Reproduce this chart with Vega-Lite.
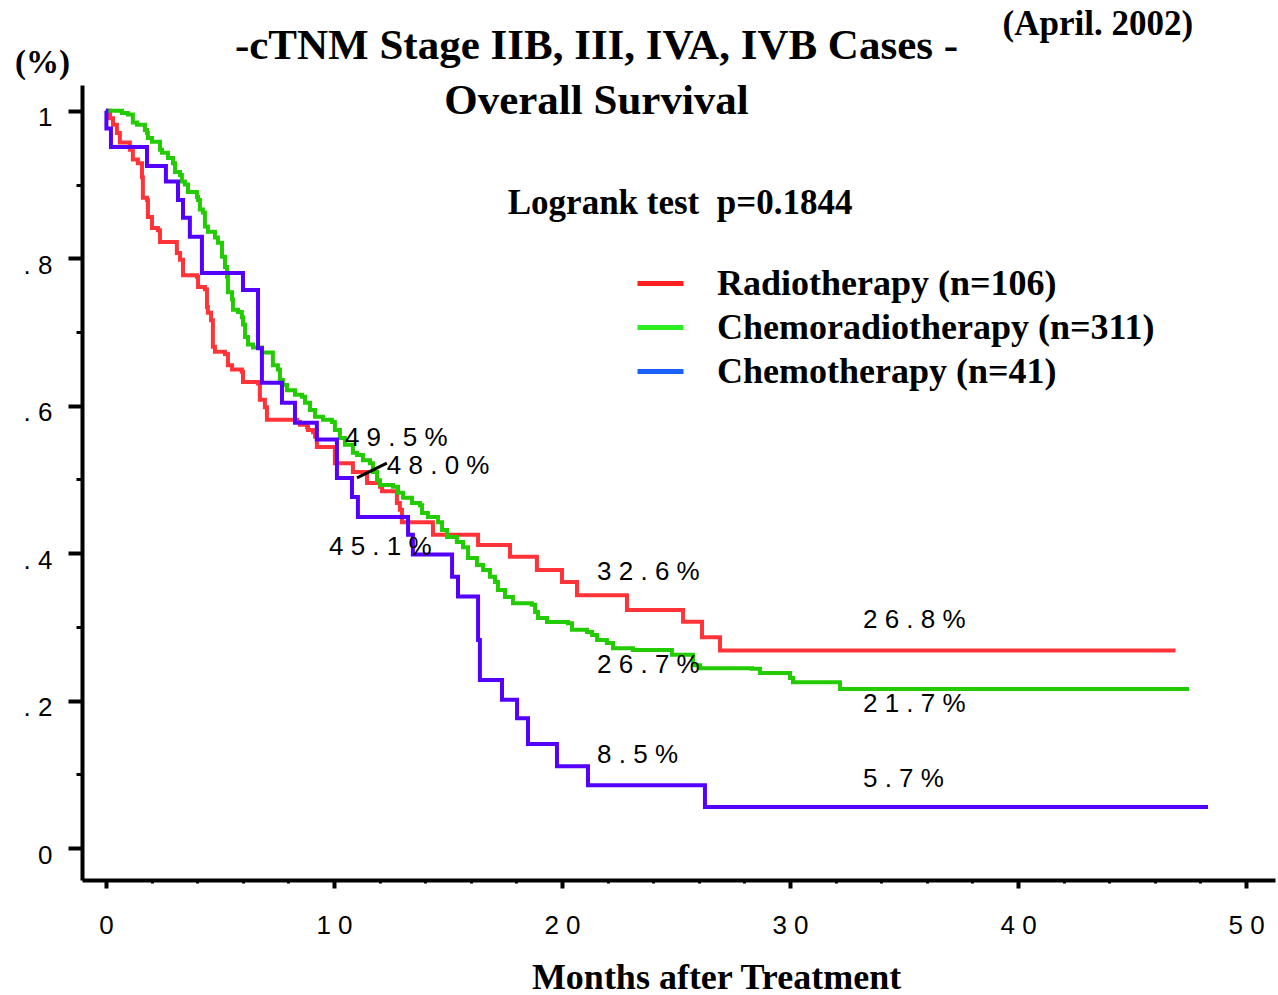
{
  "$schema": "https://vega.github.io/schema/vega-lite/v6.json",
  "width": 1193,
  "height": 795,
  "autosize": {"type": "none"},
  "padding": {"left": 82, "top": 85, "right": 3, "bottom": 115},
  "background": "white",
  "config": {"view": {"stroke": null}, "axis": {"grid": false}},
  "title": {
    "text": ["-cTNM Stage IIB, III, IVA, IVB Cases -", "Overall Survival"],
    "font": "Liberation Serif",
    "fontWeight": "bold",
    "fontSize": 43,
    "lineHeight": 55,
    "color": "black",
    "anchor": "middle",
    "frame": "group",
    "baseline": "top",
    "offset": 0,
    "dx": -82,
    "dy": 116
  },
  "datasets": {
    "km": [
      {"group": "Radiotherapy (n=106)", "month": 0, "surv": 1.0},
      {"group": "Radiotherapy (n=106)", "month": 0.18, "surv": 0.990},
      {"group": "Radiotherapy (n=106)", "month": 0.31, "surv": 0.981},
      {"group": "Radiotherapy (n=106)", "month": 0.48, "surv": 0.970},
      {"group": "Radiotherapy (n=106)", "month": 0.61, "surv": 0.957},
      {"group": "Radiotherapy (n=106)", "month": 1.05, "surv": 0.947},
      {"group": "Radiotherapy (n=106)", "month": 1.18, "surv": 0.934},
      {"group": "Radiotherapy (n=106)", "month": 1.40, "surv": 0.929},
      {"group": "Radiotherapy (n=106)", "month": 1.58, "surv": 0.910},
      {"group": "Radiotherapy (n=106)", "month": 1.62, "surv": 0.882},
      {"group": "Radiotherapy (n=106)", "month": 1.80, "surv": 0.879},
      {"group": "Radiotherapy (n=106)", "month": 1.84, "surv": 0.856},
      {"group": "Radiotherapy (n=106)", "month": 2.02, "surv": 0.841},
      {"group": "Radiotherapy (n=106)", "month": 2.28, "surv": 0.838},
      {"group": "Radiotherapy (n=106)", "month": 2.37, "surv": 0.822},
      {"group": "Radiotherapy (n=106)", "month": 3.11, "surv": 0.807},
      {"group": "Radiotherapy (n=106)", "month": 3.25, "surv": 0.798},
      {"group": "Radiotherapy (n=106)", "month": 3.38, "surv": 0.777},
      {"group": "Radiotherapy (n=106)", "month": 3.99, "surv": 0.775},
      {"group": "Radiotherapy (n=106)", "month": 4.04, "surv": 0.761},
      {"group": "Radiotherapy (n=106)", "month": 4.34, "surv": 0.758},
      {"group": "Radiotherapy (n=106)", "month": 4.43, "surv": 0.734},
      {"group": "Radiotherapy (n=106)", "month": 4.47, "surv": 0.726},
      {"group": "Radiotherapy (n=106)", "month": 4.61, "surv": 0.716},
      {"group": "Radiotherapy (n=106)", "month": 4.69, "surv": 0.680},
      {"group": "Radiotherapy (n=106)", "month": 4.78, "surv": 0.673},
      {"group": "Radiotherapy (n=106)", "month": 5.22, "surv": 0.670},
      {"group": "Radiotherapy (n=106)", "month": 5.35, "surv": 0.655},
      {"group": "Radiotherapy (n=106)", "month": 5.53, "surv": 0.649},
      {"group": "Radiotherapy (n=106)", "month": 5.96, "surv": 0.646},
      {"group": "Radiotherapy (n=106)", "month": 6.01, "surv": 0.632},
      {"group": "Radiotherapy (n=106)", "month": 6.67, "surv": 0.630},
      {"group": "Radiotherapy (n=106)", "month": 6.75, "surv": 0.608},
      {"group": "Radiotherapy (n=106)", "month": 6.97, "surv": 0.598},
      {"group": "Radiotherapy (n=106)", "month": 7.06, "surv": 0.581},
      {"group": "Radiotherapy (n=106)", "month": 8.38, "surv": 0.578},
      {"group": "Radiotherapy (n=106)", "month": 8.51, "surv": 0.574},
      {"group": "Radiotherapy (n=106)", "month": 8.82, "surv": 0.571},
      {"group": "Radiotherapy (n=106)", "month": 8.86, "surv": 0.567},
      {"group": "Radiotherapy (n=106)", "month": 9.08, "surv": 0.564},
      {"group": "Radiotherapy (n=106)", "month": 9.17, "surv": 0.558},
      {"group": "Radiotherapy (n=106)", "month": 9.25, "surv": 0.544},
      {"group": "Radiotherapy (n=106)", "month": 10.04, "surv": 0.522},
      {"group": "Radiotherapy (n=106)", "month": 10.83, "surv": 0.510},
      {"group": "Radiotherapy (n=106)", "month": 11.45, "surv": 0.495},
      {"group": "Radiotherapy (n=106)", "month": 12.02, "surv": 0.490},
      {"group": "Radiotherapy (n=106)", "month": 12.11, "surv": 0.484},
      {"group": "Radiotherapy (n=106)", "month": 12.76, "surv": 0.468},
      {"group": "Radiotherapy (n=106)", "month": 12.89, "surv": 0.459},
      {"group": "Radiotherapy (n=106)", "month": 12.98, "surv": 0.442},
      {"group": "Radiotherapy (n=106)", "month": 14.34, "surv": 0.425},
      {"group": "Radiotherapy (n=106)", "month": 16.32, "surv": 0.411},
      {"group": "Radiotherapy (n=106)", "month": 17.72, "surv": 0.395},
      {"group": "Radiotherapy (n=106)", "month": 18.90, "surv": 0.377},
      {"group": "Radiotherapy (n=106)", "month": 20.0, "surv": 0.361},
      {"group": "Radiotherapy (n=106)", "month": 20.66, "surv": 0.343},
      {"group": "Radiotherapy (n=106)", "month": 22.85, "surv": 0.323},
      {"group": "Radiotherapy (n=106)", "month": 25.31, "surv": 0.307},
      {"group": "Radiotherapy (n=106)", "month": 26.14, "surv": 0.286},
      {"group": "Radiotherapy (n=106)", "month": 26.93, "surv": 0.268},
      {"group": "Radiotherapy (n=106)", "month": 46.9, "surv": 0.268},

      {"group": "Chemoradiotherapy (n=311)", "month": 0, "surv": 1.0},
      {"group": "Chemoradiotherapy (n=311)", "month": 0.70, "surv": 0.997},
      {"group": "Chemoradiotherapy (n=311)", "month": 0.96, "surv": 0.995},
      {"group": "Chemoradiotherapy (n=311)", "month": 1.18, "surv": 0.984},
      {"group": "Chemoradiotherapy (n=311)", "month": 1.36, "surv": 0.981},
      {"group": "Chemoradiotherapy (n=311)", "month": 1.71, "surv": 0.974},
      {"group": "Chemoradiotherapy (n=311)", "month": 1.80, "surv": 0.970},
      {"group": "Chemoradiotherapy (n=311)", "month": 1.84, "surv": 0.963},
      {"group": "Chemoradiotherapy (n=311)", "month": 2.02, "surv": 0.958},
      {"group": "Chemoradiotherapy (n=311)", "month": 2.37, "surv": 0.947},
      {"group": "Chemoradiotherapy (n=311)", "month": 2.46, "surv": 0.943},
      {"group": "Chemoradiotherapy (n=311)", "month": 2.72, "surv": 0.936},
      {"group": "Chemoradiotherapy (n=311)", "month": 2.94, "surv": 0.929},
      {"group": "Chemoradiotherapy (n=311)", "month": 3.03, "surv": 0.917},
      {"group": "Chemoradiotherapy (n=311)", "month": 3.25, "surv": 0.913},
      {"group": "Chemoradiotherapy (n=311)", "month": 3.33, "surv": 0.904},
      {"group": "Chemoradiotherapy (n=311)", "month": 3.46, "surv": 0.900},
      {"group": "Chemoradiotherapy (n=311)", "month": 3.60, "surv": 0.890},
      {"group": "Chemoradiotherapy (n=311)", "month": 3.99, "surv": 0.883},
      {"group": "Chemoradiotherapy (n=311)", "month": 4.04, "surv": 0.879},
      {"group": "Chemoradiotherapy (n=311)", "month": 4.12, "surv": 0.866},
      {"group": "Chemoradiotherapy (n=311)", "month": 4.25, "surv": 0.862},
      {"group": "Chemoradiotherapy (n=311)", "month": 4.34, "surv": 0.843},
      {"group": "Chemoradiotherapy (n=311)", "month": 4.47, "surv": 0.836},
      {"group": "Chemoradiotherapy (n=311)", "month": 4.78, "surv": 0.828},
      {"group": "Chemoradiotherapy (n=311)", "month": 4.91, "surv": 0.821},
      {"group": "Chemoradiotherapy (n=311)", "month": 5.09, "surv": 0.802},
      {"group": "Chemoradiotherapy (n=311)", "month": 5.22, "surv": 0.788},
      {"group": "Chemoradiotherapy (n=311)", "month": 5.31, "surv": 0.775},
      {"group": "Chemoradiotherapy (n=311)", "month": 5.35, "surv": 0.754},
      {"group": "Chemoradiotherapy (n=311)", "month": 5.53, "surv": 0.744},
      {"group": "Chemoradiotherapy (n=311)", "month": 5.57, "surv": 0.730},
      {"group": "Chemoradiotherapy (n=311)", "month": 5.79, "surv": 0.727},
      {"group": "Chemoradiotherapy (n=311)", "month": 5.96, "surv": 0.720},
      {"group": "Chemoradiotherapy (n=311)", "month": 6.01, "surv": 0.710},
      {"group": "Chemoradiotherapy (n=311)", "month": 6.10, "surv": 0.693},
      {"group": "Chemoradiotherapy (n=311)", "month": 6.23, "surv": 0.683},
      {"group": "Chemoradiotherapy (n=311)", "month": 6.45, "surv": 0.679},
      {"group": "Chemoradiotherapy (n=311)", "month": 6.84, "surv": 0.672},
      {"group": "Chemoradiotherapy (n=311)", "month": 7.32, "surv": 0.655},
      {"group": "Chemoradiotherapy (n=311)", "month": 7.54, "surv": 0.649},
      {"group": "Chemoradiotherapy (n=311)", "month": 7.63, "surv": 0.635},
      {"group": "Chemoradiotherapy (n=311)", "month": 7.76, "surv": 0.628},
      {"group": "Chemoradiotherapy (n=311)", "month": 7.94, "surv": 0.621},
      {"group": "Chemoradiotherapy (n=311)", "month": 8.29, "surv": 0.615},
      {"group": "Chemoradiotherapy (n=311)", "month": 8.60, "surv": 0.612},
      {"group": "Chemoradiotherapy (n=311)", "month": 8.73, "surv": 0.604},
      {"group": "Chemoradiotherapy (n=311)", "month": 8.95, "surv": 0.594},
      {"group": "Chemoradiotherapy (n=311)", "month": 9.17, "surv": 0.585},
      {"group": "Chemoradiotherapy (n=311)", "month": 9.52, "surv": 0.581},
      {"group": "Chemoradiotherapy (n=311)", "month": 9.91, "surv": 0.578},
      {"group": "Chemoradiotherapy (n=311)", "month": 10.04, "surv": 0.567},
      {"group": "Chemoradiotherapy (n=311)", "month": 10.26, "surv": 0.556},
      {"group": "Chemoradiotherapy (n=311)", "month": 10.48, "surv": 0.547},
      {"group": "Chemoradiotherapy (n=311)", "month": 10.83, "surv": 0.536},
      {"group": "Chemoradiotherapy (n=311)", "month": 11.01, "surv": 0.533},
      {"group": "Chemoradiotherapy (n=311)", "month": 11.27, "surv": 0.526},
      {"group": "Chemoradiotherapy (n=311)", "month": 11.58, "surv": 0.522},
      {"group": "Chemoradiotherapy (n=311)", "month": 11.71, "surv": 0.510},
      {"group": "Chemoradiotherapy (n=311)", "month": 11.89, "surv": 0.499},
      {"group": "Chemoradiotherapy (n=311)", "month": 12.02, "surv": 0.4925},
      {"group": "Chemoradiotherapy (n=311)", "month": 12.59, "surv": 0.490},
      {"group": "Chemoradiotherapy (n=311)", "month": 12.81, "surv": 0.482},
      {"group": "Chemoradiotherapy (n=311)", "month": 13.03, "surv": 0.475},
      {"group": "Chemoradiotherapy (n=311)", "month": 13.42, "surv": 0.468},
      {"group": "Chemoradiotherapy (n=311)", "month": 13.77, "surv": 0.465},
      {"group": "Chemoradiotherapy (n=311)", "month": 13.86, "surv": 0.4545},
      {"group": "Chemoradiotherapy (n=311)", "month": 14.12, "surv": 0.449},
      {"group": "Chemoradiotherapy (n=311)", "month": 14.56, "surv": 0.442},
      {"group": "Chemoradiotherapy (n=311)", "month": 14.74, "surv": 0.4315},
      {"group": "Chemoradiotherapy (n=311)", "month": 14.96, "surv": 0.422},
      {"group": "Chemoradiotherapy (n=311)", "month": 15.39, "surv": 0.415},
      {"group": "Chemoradiotherapy (n=311)", "month": 15.66, "surv": 0.408},
      {"group": "Chemoradiotherapy (n=311)", "month": 15.88, "surv": 0.3935},
      {"group": "Chemoradiotherapy (n=311)", "month": 16.27, "surv": 0.384},
      {"group": "Chemoradiotherapy (n=311)", "month": 16.54, "surv": 0.377},
      {"group": "Chemoradiotherapy (n=311)", "month": 16.84, "surv": 0.368},
      {"group": "Chemoradiotherapy (n=311)", "month": 17.06, "surv": 0.361},
      {"group": "Chemoradiotherapy (n=311)", "month": 17.19, "surv": 0.350},
      {"group": "Chemoradiotherapy (n=311)", "month": 17.50, "surv": 0.3405},
      {"group": "Chemoradiotherapy (n=311)", "month": 17.85, "surv": 0.332},
      {"group": "Chemoradiotherapy (n=311)", "month": 18.68, "surv": 0.330},
      {"group": "Chemoradiotherapy (n=311)", "month": 18.82, "surv": 0.320},
      {"group": "Chemoradiotherapy (n=311)", "month": 18.95, "surv": 0.312},
      {"group": "Chemoradiotherapy (n=311)", "month": 19.34, "surv": 0.3066},
      {"group": "Chemoradiotherapy (n=311)", "month": 20.26, "surv": 0.305},
      {"group": "Chemoradiotherapy (n=311)", "month": 20.44, "surv": 0.296},
      {"group": "Chemoradiotherapy (n=311)", "month": 21.10, "surv": 0.293},
      {"group": "Chemoradiotherapy (n=311)", "month": 21.32, "surv": 0.289},
      {"group": "Chemoradiotherapy (n=311)", "month": 21.54, "surv": 0.282},
      {"group": "Chemoradiotherapy (n=311)", "month": 21.97, "surv": 0.278},
      {"group": "Chemoradiotherapy (n=311)", "month": 22.24, "surv": 0.271},
      {"group": "Chemoradiotherapy (n=311)", "month": 23.11, "surv": 0.2687},
      {"group": "Chemoradiotherapy (n=311)", "month": 24.82, "surv": 0.262},
      {"group": "Chemoradiotherapy (n=311)", "month": 25.75, "surv": 0.248},
      {"group": "Chemoradiotherapy (n=311)", "month": 26.06, "surv": 0.244},
      {"group": "Chemoradiotherapy (n=311)", "month": 28.33, "surv": 0.243},
      {"group": "Chemoradiotherapy (n=311)", "month": 28.68, "surv": 0.2375},
      {"group": "Chemoradiotherapy (n=311)", "month": 30.0, "surv": 0.2307},
      {"group": "Chemoradiotherapy (n=311)", "month": 30.13, "surv": 0.225},
      {"group": "Chemoradiotherapy (n=311)", "month": 32.19, "surv": 0.2157},
      {"group": "Chemoradiotherapy (n=311)", "month": 47.5, "surv": 0.2157},

      {"group": "Chemotherapy (n=41)", "month": 0, "surv": 1.0},
      {"group": "Chemotherapy (n=41)", "month": 0.02, "surv": 0.976},
      {"group": "Chemotherapy (n=41)", "month": 0.22, "surv": 0.951},
      {"group": "Chemotherapy (n=41)", "month": 1.80, "surv": 0.925},
      {"group": "Chemotherapy (n=41)", "month": 2.63, "surv": 0.904},
      {"group": "Chemotherapy (n=41)", "month": 3.16, "surv": 0.879},
      {"group": "Chemotherapy (n=41)", "month": 3.38, "surv": 0.855},
      {"group": "Chemotherapy (n=41)", "month": 3.68, "surv": 0.829},
      {"group": "Chemotherapy (n=41)", "month": 4.21, "surv": 0.780},
      {"group": "Chemotherapy (n=41)", "month": 6.01, "surv": 0.757},
      {"group": "Chemotherapy (n=41)", "month": 6.67, "surv": 0.678},
      {"group": "Chemotherapy (n=41)", "month": 6.84, "surv": 0.631},
      {"group": "Chemotherapy (n=41)", "month": 7.72, "surv": 0.604},
      {"group": "Chemotherapy (n=41)", "month": 8.29, "surv": 0.577},
      {"group": "Chemotherapy (n=41)", "month": 9.25, "surv": 0.554},
      {"group": "Chemotherapy (n=41)", "month": 10.13, "surv": 0.502},
      {"group": "Chemotherapy (n=41)", "month": 10.79, "surv": 0.476},
      {"group": "Chemotherapy (n=41)", "month": 11.05, "surv": 0.449},
      {"group": "Chemotherapy (n=41)", "month": 13.25, "surv": 0.425},
      {"group": "Chemotherapy (n=41)", "month": 13.46, "surv": 0.398},
      {"group": "Chemotherapy (n=41)", "month": 15.18, "surv": 0.368},
      {"group": "Chemotherapy (n=41)", "month": 15.44, "surv": 0.341},
      {"group": "Chemotherapy (n=41)", "month": 16.32, "surv": 0.282},
      {"group": "Chemotherapy (n=41)", "month": 16.40, "surv": 0.228},
      {"group": "Chemotherapy (n=41)", "month": 17.37, "surv": 0.201},
      {"group": "Chemotherapy (n=41)", "month": 18.03, "surv": 0.176},
      {"group": "Chemotherapy (n=41)", "month": 18.51, "surv": 0.141},
      {"group": "Chemotherapy (n=41)", "month": 19.78, "surv": 0.111},
      {"group": "Chemotherapy (n=41)", "month": 21.14, "surv": 0.085},
      {"group": "Chemotherapy (n=41)", "month": 26.27, "surv": 0.0556},
      {"group": "Chemotherapy (n=41)", "month": 48.33, "surv": 0.0556}
    ],
    "pct": [
      {"label": "4 9 . 5 %", "month": 10.48, "surv": 0.556},
      {"label": "4 8 . 0 %", "month": 12.32, "surv": 0.518},
      {"label": "4 5 . 1 %", "month": 9.78, "surv": 0.408},
      {"label": "3 2 . 6 %", "month": 21.54, "surv": 0.3745},
      {"label": "2 6 . 7 %", "month": 21.54, "surv": 0.248},
      {"label": "2 6 . 8 %", "month": 33.2, "surv": 0.309},
      {"label": "2 1 . 7 %", "month": 33.2, "surv": 0.195},
      {"label": "8 . 5 %", "month": 21.54, "surv": 0.126},
      {"label": "5 . 7 %", "month": 33.2, "surv": 0.094}
    ],
    "pointer": [
      {"month": 11.01, "surv": 0.502, "month2": 12.32, "surv2": 0.522}
    ],
    "logrank": [
      {"label": "Logrank test\u00a0 p=0.1844", "month": 25.18, "surv": 0.875}
    ],
    "stamp": [
      {"label": "(April. 2002)", "month": 43.5, "surv": 1.118}
    ]
  },
  "layer": [
    {
      "data": {"name": "km"},
      "mark": {"type": "line", "interpolate": "step-after", "strokeWidth": 2.5},
      "encoding": {
        "x": {
          "field": "month",
          "type": "quantitative",
          "scale": {"domain": [-1.05, 51.27], "nice": false, "zero": false},
          "axis": {
            "values": [0, 2, 4, 6, 8, 10, 12, 14, 16, 18, 20, 22, 24, 26, 28, 30, 32, 34, 36, 38, 40, 42, 44, 46, 48, 50],
            "title": "Months after Treatment",
            "titleFont": "Liberation Serif",
            "titleFontWeight": "bold",
            "titleFontSize": 36,
            "titleColor": "black",
            "titleX": 634,
            "titleY": 97,
            "titleAlign": "center",
            "titleBaseline": "middle",
            "domainColor": "black",
            "domainWidth": 4,
            "tickColor": "black",
            "tickSize": {"condition": {"test": "datum.value % 10 === 0", "value": 8}, "value": 3},
            "tickWidth": {"condition": {"test": "datum.value % 10 === 0", "value": 4}, "value": 3},
            "labelExpr": "datum.value % 10 === 0 ? (datum.value === 0 ? '0' : (datum.value / 10) + ' 0') : ''",
            "labelFont": "Liberation Sans",
            "labelFontSize": 26,
            "labelColor": "black",
            "labelPadding": 24,
            "labelOverlap": false,
            "labelFlush": false,
            "labelBound": false,
            "grid": false
          }
        },
        "y": {
          "field": "surv",
          "type": "quantitative",
          "scale": {"domain": [-0.0434, 1.035], "nice": false, "zero": false},
          "axis": {
            "values": [0, 0.05, 0.1, 0.15, 0.2, 0.25, 0.3, 0.35, 0.4, 0.45, 0.5, 0.55, 0.6, 0.65, 0.7, 0.75, 0.8, 0.85, 0.9, 0.95, 1],
            "title": "(%)",
            "titleAngle": 0,
            "titleX": -40,
            "titleY": -23,
            "titleAlign": "center",
            "titleBaseline": "middle",
            "titleFont": "Liberation Serif",
            "titleFontWeight": "bold",
            "titleFontSize": 33,
            "titleColor": "black",
            "domainColor": "black",
            "domainWidth": 4,
            "tickColor": "black",
            "tickSize": {"condition": {"test": "round(datum.value * 100) % 20 === 0", "value": 14}, "value": 6},
            "tickWidth": {"condition": {"test": "round(datum.value * 100) % 20 === 0", "value": 4}, "value": 3},
            "labelExpr": "round(datum.value * 100) % 20 === 0 ? (datum.value === 1 ? '1' : (datum.value === 0 ? '0' : '. ' + round(datum.value * 10))) : ''",
            "labelFont": "Liberation Sans",
            "labelFontSize": 26,
            "labelColor": "black",
            "labelPadding": 16,
            "labelOffset": 7,
            "labelOverlap": false,
            "labelFlush": false,
            "labelBound": false,
            "grid": false
          }
        },
        "stroke": {
          "field": "group",
          "type": "nominal",
          "scale": {
            "domain": ["Radiotherapy (n=106)", "Chemoradiotherapy (n=311)", "Chemotherapy (n=41)"],
            "range": ["#ff1f1f", "#2aee22", "#1a60ff"]
          },
          "legend": {
            "orient": "none",
            "legendX": 553,
            "legendY": 173,
            "title": null,
            "symbolType": "stroke",
            "symbolSize": 2116,
            "symbolStrokeWidth": 5,
            "labelFont": "Liberation Serif",
            "labelFontWeight": "bold",
            "labelFontSize": 36,
            "labelColor": "black",
            "labelOffset": 31,
            "labelLimit": 0,
            "rowPadding": 0,
            "padding": 0
          }
        }
      }
    },
    {
      "data": {"name": "km"},
      "mark": {"type": "line", "interpolate": "step-after", "strokeWidth": 4},
      "encoding": {
        "x": {"field": "month", "type": "quantitative"},
        "y": {"field": "surv", "type": "quantitative"},
        "color": {
          "field": "group",
          "type": "nominal",
          "scale": {
            "domain": ["Radiotherapy (n=106)", "Chemoradiotherapy (n=311)", "Chemotherapy (n=41)"],
            "range": ["#ff3338", "#22cc00", "#5500ff"]
          },
          "legend": null
        }
      }
    },
    {
      "data": {"name": "pointer"},
      "mark": {"type": "rule", "strokeWidth": 3, "color": "black"},
      "encoding": {
        "x": {"field": "month", "type": "quantitative"},
        "y": {"field": "surv", "type": "quantitative"},
        "x2": {"field": "month2"},
        "y2": {"field": "surv2"}
      }
    },
    {
      "data": {"name": "pct"},
      "mark": {"type": "text", "align": "left", "baseline": "middle", "font": "Liberation Sans", "fontSize": 26, "color": "black"},
      "encoding": {
        "x": {"field": "month", "type": "quantitative"},
        "y": {"field": "surv", "type": "quantitative"},
        "text": {"field": "label"}
      }
    },
    {
      "data": {"name": "logrank"},
      "mark": {"type": "text", "align": "center", "baseline": "middle", "font": "Liberation Serif", "fontWeight": "bold", "fontSize": 35, "color": "black"},
      "encoding": {
        "x": {"field": "month", "type": "quantitative"},
        "y": {"field": "surv", "type": "quantitative"},
        "text": {"field": "label"}
      }
    },
    {
      "data": {"name": "stamp"},
      "mark": {"type": "text", "align": "center", "baseline": "middle", "font": "Liberation Serif", "fontWeight": "bold", "fontSize": 35, "color": "black"},
      "encoding": {
        "x": {"field": "month", "type": "quantitative"},
        "y": {"field": "surv", "type": "quantitative"},
        "text": {"field": "label"}
      }
    }
  ]
}
